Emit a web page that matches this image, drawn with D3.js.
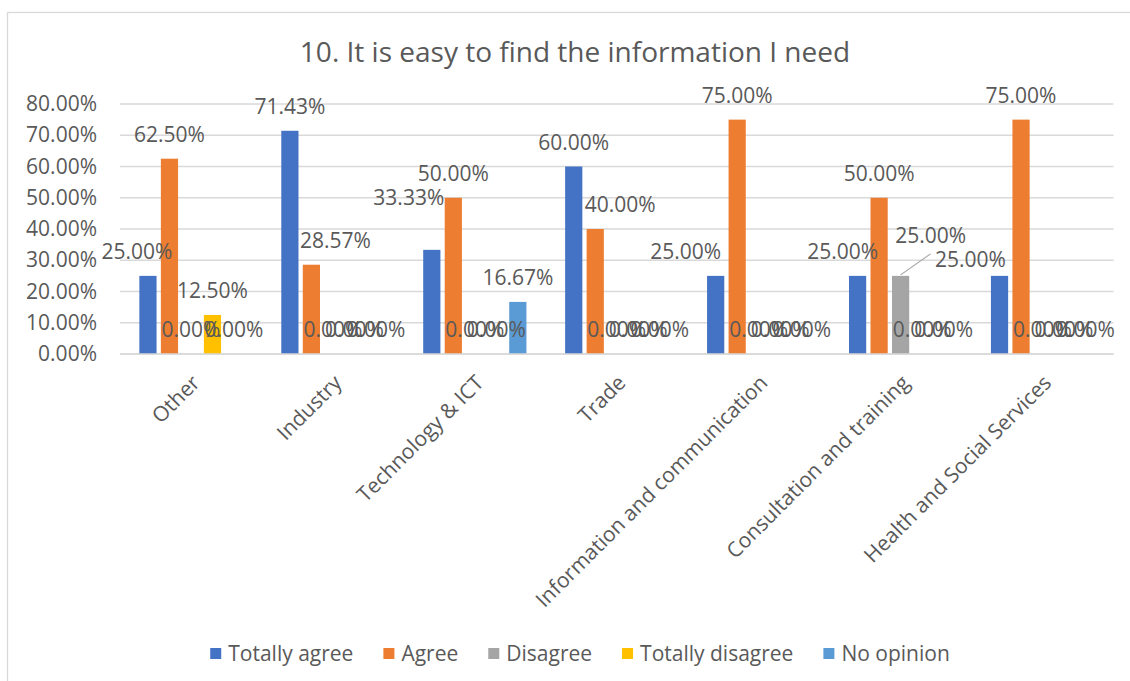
<!DOCTYPE html>
<html><head><meta charset="utf-8">
<script src="https://cdn.jsdelivr.net/npm/d3@7"></script>
<style>
body{margin:0;background:#fff}
svg{display:block}
text{font-family:"Open Sans",sans-serif;fill:#595959}
</style>
</head><body>
<svg id="chart" width="1130" height="681"></svg>
<script>
const categories = ["Other","Industry","Technology & ICT","Trade","Information and communication","Consultation and training","Health and Social Services"];
const seriesNames = ["Totally agree","Agree","Disagree","Totally disagree","No opinion"];
const totallyAgree    = [0.25, 0.7143, 0.3333, 0.60, 0.25, 0.25, 0.25];
const agree           = [0.625, 0.2857, 0.50, 0.40, 0.75, 0.50, 0.75];
const disagree        = [0, 0, 0, 0, 0, 0.25, 0];
const totallyDisagree = [0.125, 0, 0, 0, 0, 0, 0];
const noOpinion       = [0, 0, 0.1667, 0, 0, 0, 0];
const yTicks = [0, 0.1, 0.2, 0.3, 0.4, 0.5, 0.6, 0.7, 0.8];
const colors = ["#4472C4","#ED7D31","#A5A5A5","#FFC000","#5B9BD5"];
const title = "10. It is easy to find the information I need";

// manual label nudges (layout only)
const labelNudge = {
  "Totally agree|Other": [-11, 0],
  "Agree|Industry": [24, 0],
  "Totally agree|Technology & ICT": [-23, -28],
  "Agree|Trade": [25, 0],
  "Totally agree|Information and communication": [-30, 0],
  "Totally agree|Consultation and training": [-15, 0],
  "Disagree|Consultation and training": [30, -16],
  "Totally agree|Health and Social Services": [-29, 8]
};
const leaderLines = ["Disagree|Consultation and training"];

const seriesValues = [totallyAgree, agree, disagree, totallyDisagree, noOpinion];
const rows = [];
categories.forEach((c, ci) => seriesNames.forEach((s, si) => rows.push({cat: c, ser: s, si, v: seriesValues[si][ci]})));

const svg = d3.select("#chart");
const grey = "#D9D9D9";
const fs = "21px";

svg.append("rect").attr("x", 7.5).attr("y", 12.5).attr("width", 1140).attr("height", 720)
  .attr("fill", "#fff").attr("stroke", grey).attr("stroke-width", 1.3);

svg.append("text").attr("x", 575).attr("y", 52).attr("dy", "0.35em")
  .attr("text-anchor", "middle").style("font-size", "28px").text(title);

const x0 = d3.scaleBand().domain(categories).range([120, 1113.5]).padding(0);
const x1 = d3.scaleBand().domain(seriesNames).range([0, x0.bandwidth()]).paddingInner(0.2).paddingOuter(0.9);
const y = d3.scaleLinear().domain([0, 0.8]).range([354, 104]);

// gridlines
svg.append("g").selectAll("line").data(yTicks).join("line")
  .attr("x1", 120).attr("x2", 1113.5)
  .attr("y1", d => y(d)).attr("y2", d => y(d))
  .attr("stroke", grey).attr("stroke-width", 1.3);

// y axis labels
const yAxis = d3.axisLeft(y).tickValues(yTicks).tickFormat(d3.format(".2%")).tickSize(0).tickPadding(0);
const yg = svg.append("g").attr("transform", "translate(97,0)").call(yAxis);
yg.select(".domain").remove();
yg.selectAll("text").style("font-size", fs).attr("fill", "#595959").style("font-family", '"Open Sans",sans-serif');

// bars
svg.append("g").selectAll("rect").data(rows).join("rect")
  .attr("x", d => x0(d.cat) + x1(d.ser))
  .attr("width", x1.bandwidth())
  .attr("y", d => y(d.v))
  .attr("height", d => y(0) - y(d.v))
  .attr("fill", d => colors[d.si]);

// x axis line
svg.append("line").attr("x1", 120).attr("x2", 1113.5).attr("y1", y(0)).attr("y2", y(0))
  .attr("stroke", grey).attr("stroke-width", 1.3);

// category labels
const xg = svg.append("g");
categories.forEach(c => {
  const cx = x0(c) + x0.bandwidth() / 2;
  xg.append("text").attr("transform", `translate(${cx - 1},373) rotate(-45)`)
    .attr("text-anchor", "end").attr("dy", "0.75em").style("font-size", fs).text(c);
});

// data labels
const fmt = d3.format(".2%");
const lg = svg.append("g");
rows.forEach(d => {
  const key = d.ser + "|" + d.cat;
  const n = labelNudge[key] || [0, 0];
  const bx = x0(d.cat) + x1(d.ser) + x1.bandwidth() / 2;
  const lx = bx + n[0], ly = y(d.v) - 24 + n[1];
  if (leaderLines.includes(key)) {
    lg.append("line").attr("x1", bx).attr("y1", y(d.v) - 1).attr("x2", lx).attr("y2", ly + 18)
      .attr("stroke", "#A6A6A6").attr("stroke-width", 1.2);
  }
  lg.append("text").attr("x", lx).attr("y", ly).attr("dy", "0.35em").attr("text-anchor", "middle")
    .style("font-size", fs).text(fmt(d.v));
});

// legend
const leg = svg.append("g");
let lx = 0;
seriesNames.forEach((s, i) => {
  const g = leg.append("g").attr("transform", `translate(${lx},0)`);
  g.append("rect").attr("x", 0).attr("y", 648).attr("width", 11).attr("height", 11).attr("fill", colors[i]);
  const t = g.append("text").attr("x", 18).attr("y", 654).attr("dy", "0.35em").style("font-size", fs).text(s);
  lx += 18 + t.node().getComputedTextLength() + 30;
});
const total = lx - 30;
leg.attr("transform", `translate(${580 - total / 2},0)`);
</script>
</body></html>
